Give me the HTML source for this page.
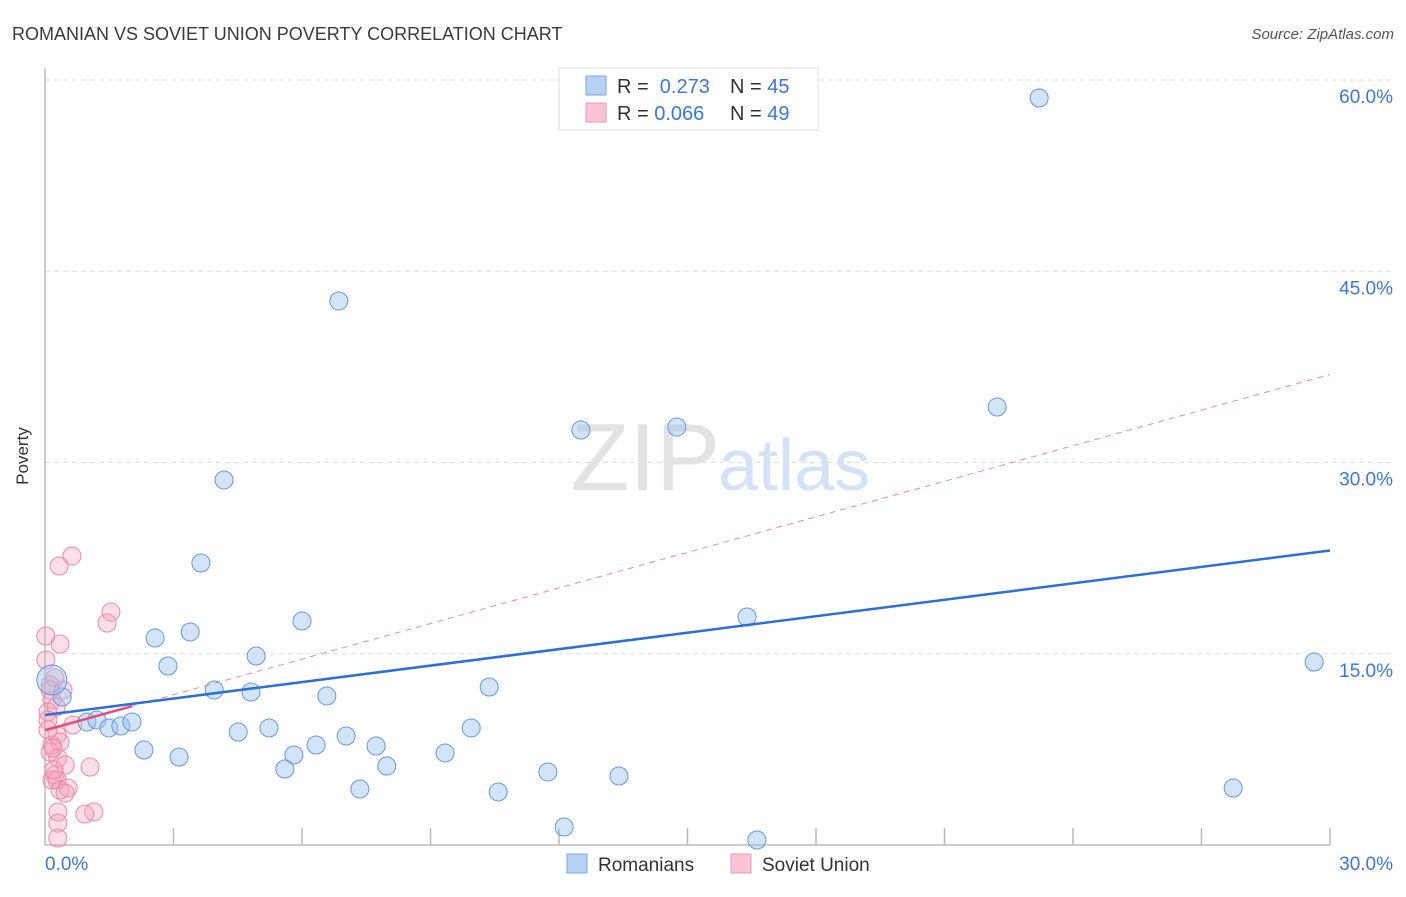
<!DOCTYPE html>
<html><head><meta charset="utf-8"><style>
body{margin:0;background:#fff;font-family:"Liberation Sans",sans-serif;}
svg text{font-family:"Liberation Sans",sans-serif;}
</style></head><body>
<svg id="c" width="1406" height="892">
<text x="12" y="40" font-size="18" fill="#3a3a3a">ROMANIAN VS SOVIET UNION POVERTY CORRELATION CHART</text>
<text x="1394" y="39" font-size="15" fill="#555" text-anchor="end" font-style="italic">Source: ZipAtlas.com</text>
<text x="28" y="456" font-size="17" fill="#333" text-anchor="middle" transform="rotate(-90 28 456)">Poverty</text>
<g id="grid"></g>
<text x="720" y="490" font-size="96" fill="#e3e3e3" text-anchor="end" font-family="Liberation Serif">ZIP</text>
<text x="718" y="490" font-size="72" fill="#d3e2f6">atlas</text>
<g id="marks"></g>
<g>
<rect x="559" y="68" width="259" height="62" fill="#fff" stroke="#ddd"/>
<rect x="586" y="76" width="20" height="19" fill="#b8d2f5" stroke="#7aa7e0"/>
<rect x="586" y="103" width="20" height="19" fill="#f9c4d3" stroke="#ec98b2"/>
<text x="617" y="93" font-size="20" fill="#333">R = <tspan fill="#3b78d8">&#160;0.273</tspan><tspan x="730">N = </tspan><tspan fill="#3b78d8">45</tspan></text>
<text x="617" y="120" font-size="20" fill="#333">R = <tspan fill="#3b78d8">0.066</tspan><tspan x="730">N = </tspan><tspan fill="#3b78d8">49</tspan></text>
</g>
<g>
<rect x="567" y="854" width="20" height="19" fill="#b8d2f5" stroke="#7aa7e0"/>
<text x="598" y="871" font-size="19" fill="#333">Romanians</text>
<rect x="731" y="854" width="20" height="19" fill="#f9c4d3" stroke="#ec98b2"/>
<text x="762" y="871" font-size="19" fill="#333">Soviet Union</text>
</g>
</svg>
<script>
const yTicks=[15,30,45,60];
const xTickLabels=["0.0%","30.0%"];
const romX=[23.21,6.86,4.18,22.23,12.51,14.75,3.64,16.39,29.63,2.57,3.39,6.00,2.87,4.93,3.95,4.81,6.58,10.37,0.40,0.98,1.21,1.49,1.77,2.03,2.31,3.13,4.51,5.23,5.81,5.60,6.33,7.03,7.73,7.98,7.35,9.34,9.95,10.58,11.74,13.40,12.12,16.62,27.74];
const romY=[58.59,42.67,28.63,34.35,32.55,32.78,22.12,17.88,14.35,16.24,16.71,17.57,14.04,14.82,12.16,12.00,11.69,12.39,11.61,9.65,9.80,9.18,9.33,9.65,7.45,6.90,8.86,9.18,7.06,5.96,7.84,8.55,7.76,6.20,4.39,7.22,9.18,4.16,5.73,5.41,1.41,0.39,4.47];
const sovX=[0.63,0.33,1.54,1.45,0.02,0.35,0.12,0.23,0.42,0.16,0.07,0.26,0.65,0.07,0.28,0.16,0.35,0.12,0.30,0.47,1.05,0.23,0.16,0.28,0.35,0.54,0.47,1.14,0.93,0.30,0.30,0.30,0.12,0.07,0.02,0.19,0.21];
const sovY=[22.67,21.88,18.27,17.41,16.39,15.76,12.55,13.10,12.16,11.37,10.43,10.82,9.41,9.80,8.63,7.84,8.08,7.29,6.82,6.27,6.12,5.49,5.10,5.10,4.31,4.47,4.08,2.59,2.43,2.59,1.73,0.55,12.16,9.02,14.51,7.61,5.88];
const romTrend=[10.2,23.1];
const sovTrend=[9.0,36.9];
const NS="http://www.w3.org/2000/svg";
const X0=45,X1=1330,Y0=845,Y60=80;
const sx=v=>X0+(v/30)*(X1-X0);
const sy=v=>Y0-(v/60)*(Y0-Y60);
function mk(t,a,p){const e=document.createElementNS(NS,t);for(const k in a)e.setAttribute(k,a[k]);p.appendChild(e);return e;}
const g=document.getElementById('grid'),m=document.getElementById('marks');
yTicks.forEach(v=>{
 const l=mk('line',{x1:X0,x2:1394,y1:sy(v),y2:sy(v),stroke:'#ddd','stroke-dasharray':'5,4'},g);
 
 
 const t=mk('text',{x:1393,y:sy(v)+23,'font-size':19,fill:'#3b78d8','text-anchor':'end'},g);
 t.textContent=v.toFixed(1)+'%';
 
 
});
const ax=mk('line',{x1:X0,x2:X0,y1:68,y2:Y0,stroke:'#bbb','stroke-width':1.5},g);


const bx=mk('line',{x1:X0,x2:X1,y1:Y0,y2:Y0,stroke:'#bbb','stroke-width':1.5},g);


for(let i=1;i<=10;i++){const t=mk('line',{x1:sx(i*3),x2:sx(i*3),y1:828,y2:Y0,stroke:'#bbb','stroke-width':1.5},g);
 
 }
const xl0=mk('text',{x:45,y:870,'font-size':19,fill:'#3b78d8'},g);xl0.textContent=xTickLabels[0];


const xl1=mk('text',{x:1393,y:870,'font-size':19,fill:'#3b78d8','text-anchor':'end'},g);xl1.textContent=xTickLabels[1];


sovX.forEach((x,i)=>{const c=mk('circle',{cx:sx(x),cy:sy(sovY[i]),r:9,fill:'rgba(244,160,185,0.35)',stroke:'#eb8aa7','stroke-width':1},m);
 
 });
romX.forEach((x,i)=>{const c=mk('circle',{cx:sx(x),cy:sy(romY[i]),r:9,fill:'rgba(160,196,240,0.45)',stroke:'#6499dc','stroke-width':1},m);
 
 });
const big=mk('circle',{cx:sx(0.16),cy:sy(12.94),r:15,fill:'rgba(160,196,240,0.45)',stroke:'#6499dc'},m);


const sd=mk('line',{x1:sx(0),y1:sy(sovTrend[0]),x2:sx(30),y2:sy(sovTrend[1]),stroke:'#e58aa6','stroke-width':1,'stroke-dasharray':'6,5'},m);


const ss=mk('line',{x1:sx(0),y1:sy(sovTrend[0]),x2:sx(2.03),y2:sy(sovTrend[0]+(sovTrend[1]-sovTrend[0])*2.03/30),stroke:'#e0507d','stroke-width':2.5},m);


const rt=mk('line',{x1:sx(0),y1:sy(romTrend[0]),x2:sx(30),y2:sy(romTrend[1]),stroke:'#2c6fd6','stroke-width':2.5},m);


</script>
</body></html>
